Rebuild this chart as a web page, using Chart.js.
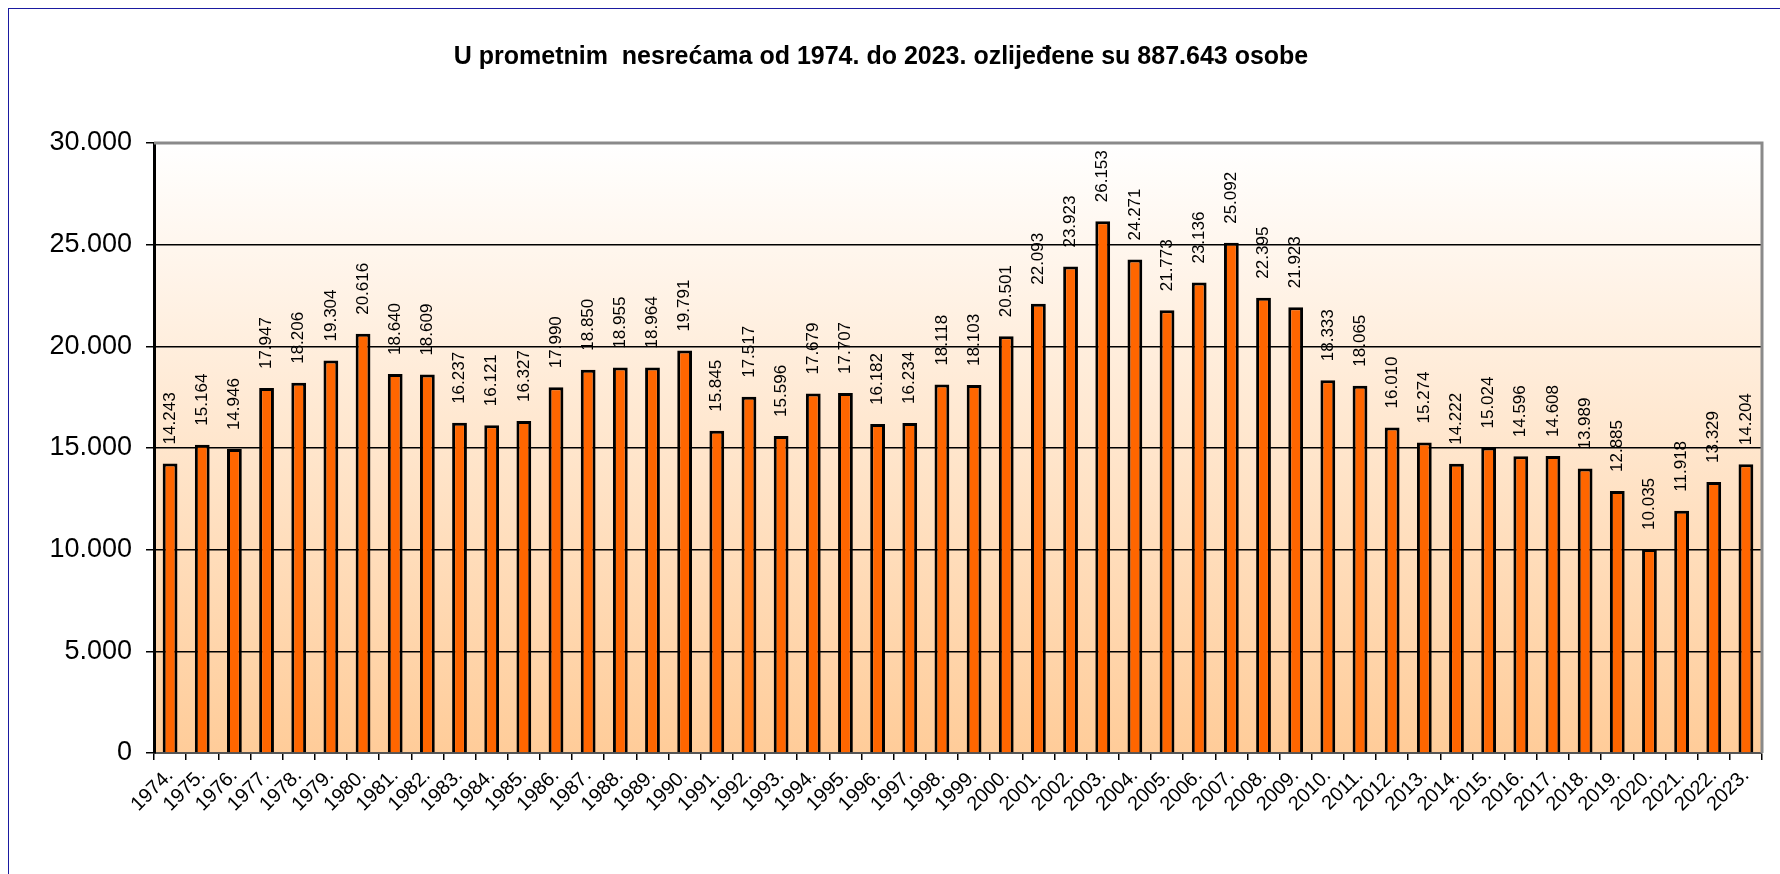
<!DOCTYPE html>
<html>
<head>
<meta charset="utf-8">
<script src="https://cdn.jsdelivr.net/npm/chart.js@4/dist/chart.umd.min.js"></script>
<style>
  html, body { margin: 0; padding: 0; background: #fff; }
  #wrap { position: relative; width: 1780px; height: 874px; overflow: hidden; }
  #frame { position: absolute; left: 8px; top: 8px; width: 1800px; height: 900px;
           border-left: 1.5px solid #1a1aa0; border-top: 1.5px solid #1a1aa0; pointer-events: none; }
  canvas { position: absolute; left: 0; top: 0; }
</style>
</head>
<body>
<div id="wrap">
  <canvas id="chart" width="1780" height="874"></canvas>
  <div id="frame"></div>
</div>
<script>
const years = ['1974.', '1975.', '1976.', '1977.', '1978.', '1979.', '1980.', '1981.', '1982.', '1983.',
  '1984.', '1985.', '1986.', '1987.', '1988.', '1989.', '1990.', '1991.', '1992.', '1993.',
  '1994.', '1995.', '1996.', '1997.', '1998.', '1999.', '2000.', '2001.', '2002.', '2003.',
  '2004.', '2005.', '2006.', '2007.', '2008.', '2009.', '2010.', '2011.', '2012.', '2013.',
  '2014.', '2015.', '2016.', '2017.', '2018.', '2019.', '2020.', '2021.', '2022.', '2023.'];

const injured = [14243, 15164, 14946, 17947, 18206, 19304, 20616, 18640, 18609, 16237,
  16121, 16327, 17990, 18850, 18955, 18964, 19791, 15845, 17517, 15596,
  17679, 17707, 16182, 16234, 18118, 18103, 20501, 22093, 23923, 26153,
  24271, 21773, 23136, 25092, 22395, 21923, 18333, 18065, 16010, 15274,
  14222, 15024, 14596, 14608, 13989, 12885, 10035, 11918, 13329, 14204];

const titleText = 'U prometnim  nesrećama od 1974. do 2023. ozlijeđene su 887.643 osobe';

function fmt(n) {
  return String(n).replace(/\B(?=(\d{3})+(?!\d))/g, '.');
}

const plotBackground = {
  id: 'plotBackground',
  beforeDatasetsDraw(chart) {
    const { ctx, chartArea: a } = chart;
    const g = ctx.createLinearGradient(0, a.top, 0, a.bottom);
    g.addColorStop(0, '#ffffff');
    g.addColorStop(1, '#ffcc99');
    ctx.save();
    ctx.globalCompositeOperation = 'destination-over';
    ctx.fillStyle = g;
    ctx.fillRect(a.left, a.top, a.right - a.left, a.bottom - a.top);
    ctx.restore();
  },
  afterDraw(chart) {
    const { ctx, chartArea: a } = chart;
    ctx.save();
    ctx.strokeStyle = '#8a8a8a';
    ctx.lineWidth = 3;
    ctx.beginPath();
    ctx.moveTo(a.left, a.top);
    ctx.lineTo(a.right, a.top);
    ctx.lineTo(a.right, a.bottom);
    ctx.stroke();
    ctx.restore();
  }
};

const barLabels = {
  id: 'barLabels',
  afterDatasetsDraw(chart) {
    const { ctx } = chart;
    const meta = chart.getDatasetMeta(0);
    ctx.save();
    ctx.fillStyle = '#000';
    ctx.font = '17px "Liberation Sans", Arial, sans-serif';
    ctx.textAlign = 'left';
    ctx.textBaseline = 'middle';
    meta.data.forEach((bar, i) => {
      ctx.save();
      ctx.translate(bar.x, bar.y - 19);
      ctx.rotate(-Math.PI / 2);
      ctx.fillText(fmt(injured[i]), 0, 0);
      ctx.restore();
    });
    ctx.restore();
  }
};

new Chart(document.getElementById('chart'), {
  type: 'bar',
  data: {
    labels: years,
    datasets: [{
      data: injured,
      backgroundColor: '#ff6600',
      borderColor: '#000000',
      borderWidth: 3,
      borderSkipped: 'bottom',
      categoryPercentage: 1,
      barPercentage: 0.46
    }]
  },
  options: {
    responsive: false,
    animation: false,
    layout: { padding: { left: 0, right: 18, top: 0, bottom: 0 } },
    plugins: {
      legend: { display: false },
      tooltip: { enabled: false },
      title: {
        display: true,
        text: titleText,
        color: '#000',
        font: { family: '"Liberation Sans", Arial, sans-serif', size: 25, weight: 'bold', lineHeight: 1.2 },
        padding: { top: 42, bottom: 71 }
      }
    },
    scales: {
      x: {
        offset: true,
        grid: { offset: true, drawOnChartArea: false, drawTicks: true, tickLength: 7, color: '#000', lineWidth: 1.5 },
        border: { color: '#555', width: 2 },
        ticks: {
          autoSkip: false, minRotation: 45, maxRotation: 45, padding: 4,
          color: '#000', font: { family: '"Liberation Sans", Arial, sans-serif', size: 20 }
        },
        afterFit(scale) { scale.height = 121; }
      },
      y: {
        min: 0, max: 30000,
        ticks: {
          stepSize: 5000, padding: 14, color: '#000',
          font: { family: '"Liberation Sans", Arial, sans-serif', size: 27 },
          callback: v => fmt(v)
        },
        grid: {
          color: ctx => ctx.tick && ctx.tick.value === 30000 ? 'rgba(0,0,0,0)' : '#000',
          lineWidth: 1.5, tickLength: 8, tickColor: '#000'
        },
        border: { color: '#000', width: 3 },
        afterFit(scale) { scale.width = 154; }
      }
    }
  },
  plugins: [plotBackground, barLabels]
});
</script>
</body>
</html>
